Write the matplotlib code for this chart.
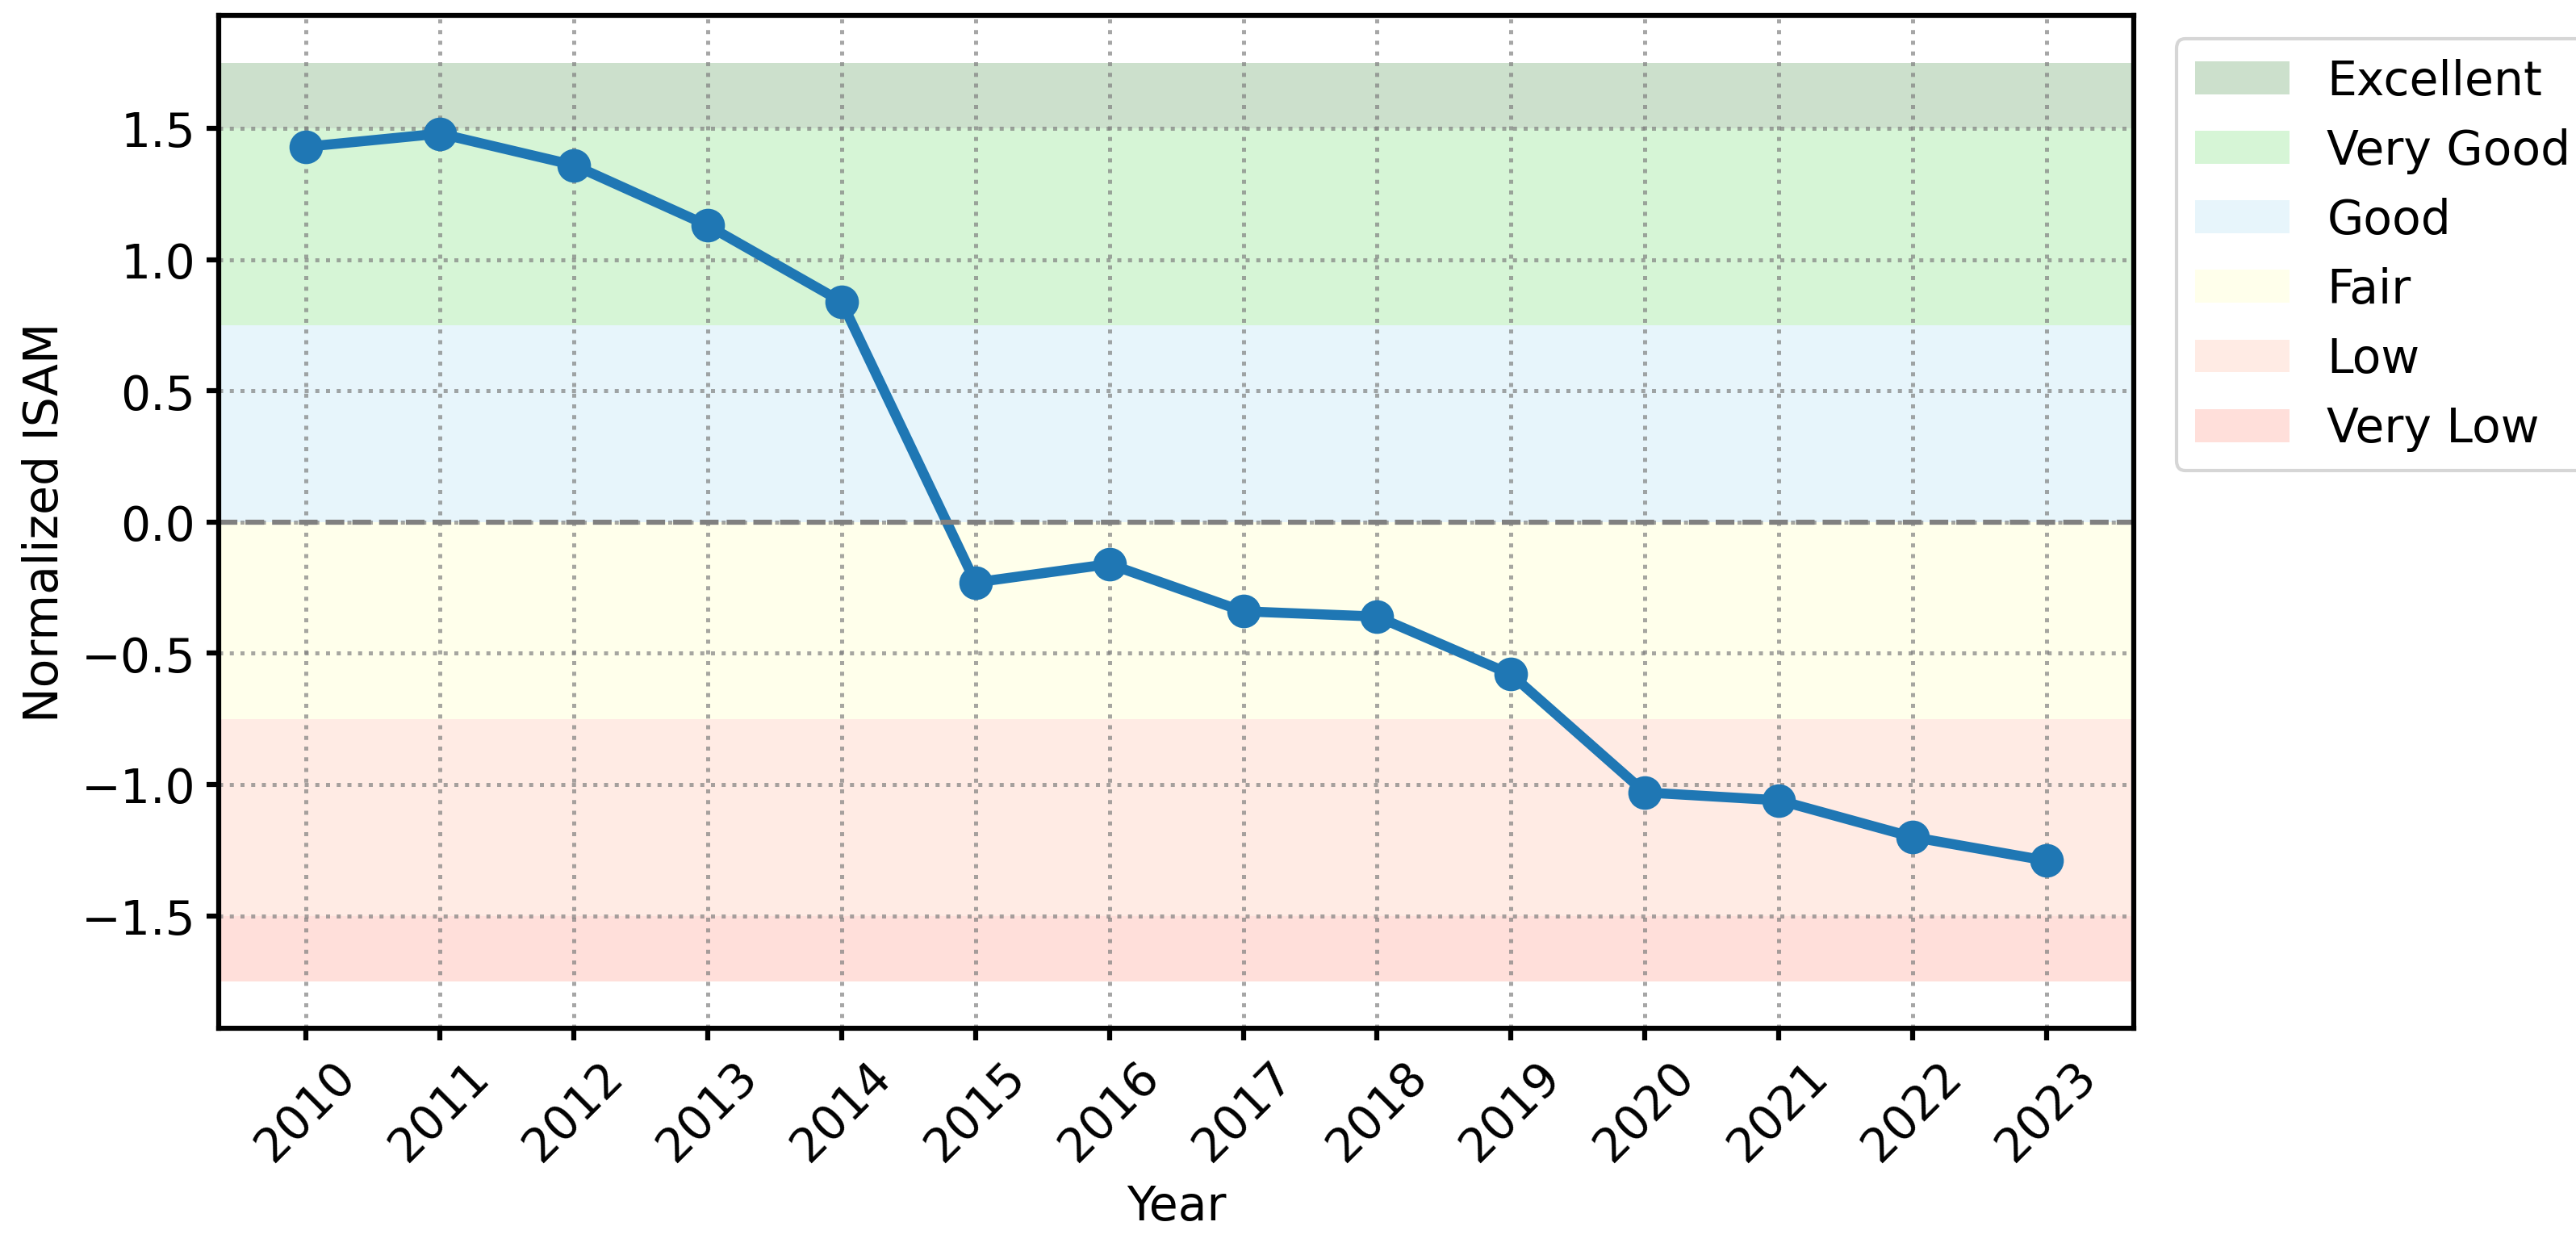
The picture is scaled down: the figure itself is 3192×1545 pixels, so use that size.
import matplotlib.pyplot as plt

# Data
years = [2010, 2011, 2012, 2013, 2014, 2015, 2016, 2017, 2018, 2019, 2020, 2021, 2022, 2023]
isam = [1.43, 1.48, 1.36, 1.13, 0.84, -0.23, -0.16, -0.34, -0.36, -0.58, -1.03, -1.06, -1.20, -1.29]

band_labels = ['Excellent', 'Very Good', 'Good', 'Fair', 'Low', 'Very Low']
band_low = [1.5, 0.75, 0.0, -0.75, -1.5, -1.75]
band_high = [1.75, 1.5, 0.75, 0.0, -0.75, -1.5]
band_colors = ['darkgreen', 'limegreen', 'skyblue', 'yellow', 'coral', 'tomato']
band_alpha = [0.2, 0.2, 0.2, 0.08, 0.15, 0.2]

plt.rcParams['font.size'] = 14
plt.rcParams['axes.linewidth'] = 1.5
plt.rcParams['xtick.major.width'] = 1.5
plt.rcParams['ytick.major.width'] = 1.5
fig = plt.figure(figsize=(10.643, 5.153), dpi=300)
ax = fig.add_axes([0.085, 0.175, 0.743, 0.812])

for lab, lo, hi, c, a in zip(band_labels, band_low, band_high, band_colors, band_alpha):
    ax.axhspan(lo, hi, color=c, alpha=a, label=lab, lw=0)

ax.plot(years, isam, marker='o', color='#1f77b4', lw=3, markersize=9)
ax.axhline(0, color='gray', linestyle='--', lw=1.5)

ax.set_ylim(-1.93, 1.93)
ax.set_xticks(years)
ax.set_xticklabels([str(y) for y in years], rotation=45)
ax.set_xlabel('Year')
ax.set_ylabel('Normalized ISAM')
ax.grid(True, linestyle=':', color='gray', alpha=0.7, lw=1.2)
ax.legend(loc='upper left', bbox_to_anchor=(1.01, 1.0))

fig.savefig('out.png', dpi=300)
